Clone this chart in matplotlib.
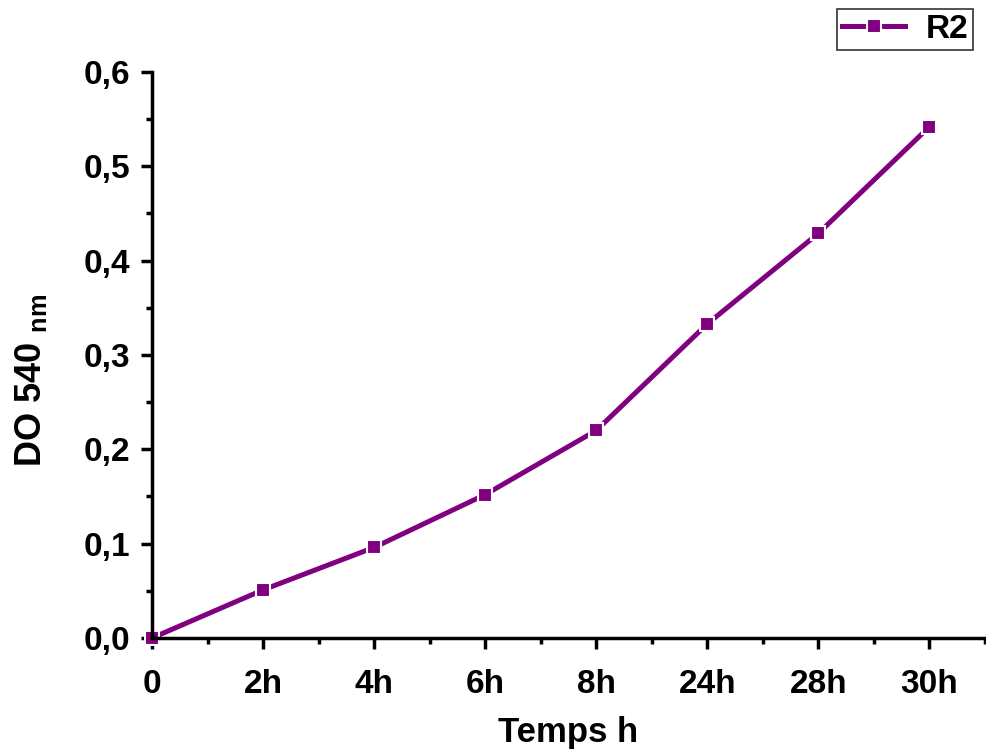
import matplotlib
matplotlib.use("Agg")
import matplotlib.pyplot as plt
from matplotlib.ticker import MultipleLocator, FixedLocator, FuncFormatter

plt.rcParams['font.family'] = ['Liberation Sans', 'DejaVu Sans']
plt.rcParams['font.weight'] = 'bold'
plt.rcParams['mathtext.fontset'] = 'custom'
plt.rcParams['mathtext.rm'] = 'Liberation Sans:bold'
plt.rcParams['mathtext.bf'] = 'Liberation Sans:bold'

# data
time_labels = ['0', '2h', '4h', '6h', '8h', '24h', '28h', '30h']
do_540 = [0.0, 0.051, 0.096, 0.152, 0.220, 0.333, 0.429, 0.542]

purple = '#800080'

fig = plt.figure(figsize=(9.87, 7.52), dpi=100)
ax = fig.add_axes([0.154, 0.1516, 0.844, 0.7527])

x = list(range(len(time_labels)))
ax.plot(x, do_540, color=purple, lw=3.6, marker='s', ms=10.5,
        markeredgecolor='white', markeredgewidth=1.5, label='R2', clip_on=False)

ax.set_xlim(0, 7.5)
ax.set_ylim(0, 0.6)
ax.xaxis.set_major_locator(FixedLocator(x))
ax.set_xticklabels(time_labels)
ax.xaxis.set_minor_locator(FixedLocator([i + 0.5 for i in x]))
ax.yaxis.set_major_locator(MultipleLocator(0.1))
ax.yaxis.set_minor_locator(MultipleLocator(0.05))
ax.yaxis.set_major_formatter(FuncFormatter(lambda v, p: f"{v:.1f}".replace('.', ',')))

for s in ['top', 'right']:
    ax.spines[s].set_visible(False)
for s in ['left', 'bottom']:
    ax.spines[s].set_linewidth(2.5)

ax.tick_params(which='major', direction='out', length=8, width=2.5, labelsize=24)
ax.tick_params(axis='y', which='major', pad=8)
ax.tick_params(axis='x', which='major', pad=14)
ax.tick_params(which='minor', direction='out', length=4.5, width=2.5)

ax.set_xlabel('Temps h', fontsize=25, fontweight='bold', labelpad=12)
ax.set_ylabel(r'DO 540 $_{\mathbf{nm}}$', fontsize=26, fontweight='bold')
ax.yaxis.set_label_coords(-0.124, 0.455)

leg = fig.legend(loc='upper right', bbox_to_anchor=(0.986, 0.988), fontsize=24,
                 frameon=True, fancybox=False, edgecolor='black', handlelength=1.9,
                 borderpad=0.15, handletextpad=0.6, borderaxespad=0)
leg.get_frame().set_linewidth(1.2)

fig.savefig('out.png', dpi=100)
